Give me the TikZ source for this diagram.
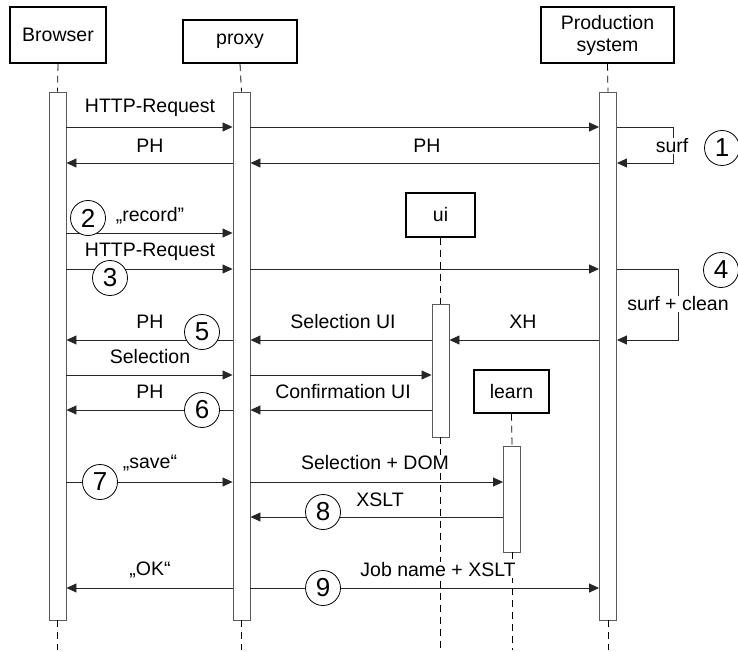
\documentclass[tikz,border=0pt]{standalone}
\usepackage{fontspec}
\setmainfont{Liberation Sans}
\usetikzlibrary{arrows.meta}
\begin{document}
\begin{tikzpicture}[
  x=1pt, y=-1pt,
  every node/.style={font=\fontsize{19.5}{22}\selectfont, inner sep=1pt},
  actor/.style={draw, line width=1.4pt, align=center, minimum height=43pt},
  bar/.style={draw=black!65, line width=0.9pt, fill=white, minimum width=17pt, inner sep=0pt},
  life/.style={line width=0.8pt, dash pattern=on 7pt off 5pt, black},
  msg/.style={-{Triangle[length=10pt,width=9pt]}, line width=0.8pt, black!85},
  num/.style={circle, draw, line width=0.8pt, fill=white, minimum size=35pt, inner sep=0pt, font=\fontsize{26}{26}\selectfont},
  lbl/.style={fill=white, inner sep=1pt}
]
  \useasboundingbox (0,0) rectangle (738,652);
  % participants
  \node[actor, minimum width=96pt, minimum height=56pt] (br) at (58,35) {Browser};
  \node[actor, minimum width=114pt] (px) at (240,41.5) {proxy};
  \node[actor, minimum width=133pt, minimum height=56pt] (ps) at (607.5,35) {Production\\system};
  \node[actor, minimum width=69pt, minimum height=44pt] (ui) at (440.5,215) {ui};
  \node[actor, minimum width=75pt] (ln) at (511.5,391.5) {learn};
  % activation bars
  \node[bar, minimum height=528pt] (brA) at (57.5,356) {};
  \node[bar, minimum height=528pt] (pxA) at (241.5,356) {};
  \node[bar, minimum height=528pt] (psA) at (608,356) {};
  \node[bar, minimum height=133pt] (uiA) at (440.5,370.5) {};
  \node[bar, minimum height=106pt] (lnA) at (512,499) {};
  % lifelines
  \coordinate (bot) at (0,650);
  \foreach \p in {br,px,ps,ui,ln} {
    \draw[life] (\p.south) -- (\p A.north);
    \draw[life] (\p A.south) -- (\p A.south |- bot);
  }
  % message rows
  \foreach \y [count=\i] in {127,163,233,269,340,375,410,482,517,588}
    \coordinate (r\i) at (0,\y);
  \foreach \a/\b/\r in {brA.east/pxA.west/r1, pxA.east/psA.west/r1,
      psA.west/pxA.east/r2, pxA.west/brA.east/r2,
      brA.east/pxA.west/r3,
      brA.east/pxA.west/r4, pxA.east/psA.west/r4,
      psA.west/uiA.east/r5, uiA.west/pxA.east/r5, pxA.west/brA.east/r5,
      brA.east/pxA.west/r6, pxA.east/uiA.west/r6,
      uiA.west/pxA.east/r7, pxA.west/brA.east/r7,
      brA.east/pxA.west/r8, pxA.east/lnA.west/r8,
      lnA.west/pxA.east/r9,
      pxA.west/brA.east/r10, pxA.east/psA.west/r10}
    \draw[msg] (\a |- \r) -- (\b |- \r);
  % self calls
  \draw[msg] (psA.east |- r1) -- ++(56,0) |- (psA.east |- r2);
  \draw[msg] (psA.east |- r4) -- ++(61,0) |- (psA.east |- r5);
  % labels
  \foreach \x/\y/\t [count=\i] in {150/108/HTTP-Request, 150/146/PH, 427/146/PH,
      672/146/surf, 150/216/„record", 150/252/HTTP-Request, 678/304/surf + clean,
      150/322/PH, 343/322/Selection UI, 523/322/XH, 150/357/Selection,
      150/392/PH, 343/392/Confirmation UI, 150/463/„save“, 375/463/Selection + DOM,
      380/500/XSLT, 150/570/„OK“, 438/570/Job name + XSLT}
    \node[lbl] (t\i) at (\x,\y) {\t};
  % step numbers
  \foreach \n/\x/\y in {1/722/148, 2/88/218, 3/110/278, 4/721/270, 5/202/332,
      6/202/410, 7/100/482, 8/323/512, 9/323/588}
    \node[num] (c\n) at (\x,\y) {\n};
\end{tikzpicture}
\end{document}
